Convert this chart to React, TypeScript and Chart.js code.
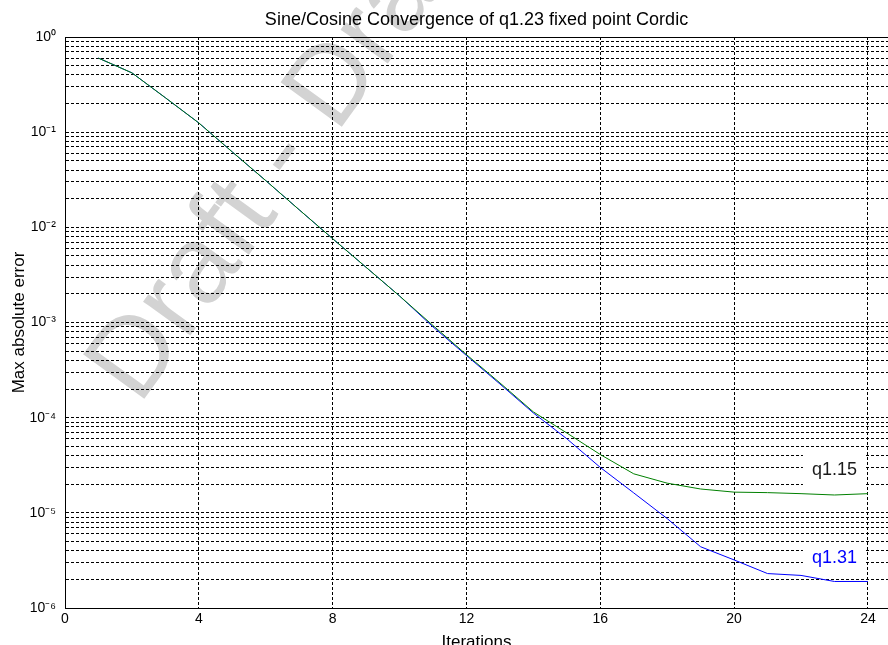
import React, { useEffect, useRef } from "react";
import { Chart, registerables } from "chart.js";

Chart.register(...registerables);

// ---------- data ----------
const iterations = [1, 2, 3, 4, 5, 6, 7, 8, 9, 10, 11, 12, 13, 14, 15, 16, 17, 18, 19, 20, 21, 22, 23, 24];
const errQ115 = [
  0.6, 0.42, 0.23, 0.125, 0.062, 0.031, 0.0153, 0.0076, 0.0038, 0.0019, 0.00093, 0.00046,
  0.000232, 0.000115, 0.000069, 0.000041, 0.0000257, 0.0000205, 0.0000178, 0.0000165,
  0.0000163, 0.0000159, 0.0000154, 0.0000159,
];
const errQ131 = [
  0.6, 0.42, 0.23, 0.125, 0.062, 0.031, 0.0153, 0.0076, 0.0038, 0.0019, 0.0009, 0.00045,
  0.000226, 0.000112, 0.00006, 0.00003, 0.0000162, 0.0000087, 0.0000044, 0.0000032,
  0.0000023, 0.0000022, 0.0000019, 0.0000019,
];
const seriesNames = ["q1.15", "q1.31"];
const seriesColors = ["#008000", "#0000ff"];
const labelTextColors = ["#1a1a1a", "#0000ff"];
const labelX = [23, 23];
const labelY = [2.82e-5, 3.36e-6];
const xTicks = [0, 4, 8, 12, 16, 20, 24];
const xMin = 0;
const xMax = 24.6;
const yDecades = [-6, -5, -4, -3, -2, -1, 0];
const titleText = "Sine/Cosine Convergence of q1.23 fixed point Cordic";
const xTitle = "Iterations";
const yTitle = "Max absolute error";
const watermarkText = "Draft - Draft";

const FONT = '"Liberation Sans", Arial, Helvetica, sans-serif';

const SUP: Record<string, string> = {
  "0": "\u2070", "1": "\u00B9", "2": "\u00B2", "3": "\u00B3", "4": "\u2074",
  "5": "\u2075", "6": "\u2076", "7": "\u2077", "8": "\u2078", "9": "\u2079", "-": "\u207B",
};
const sup = (s: string) => s.split("").map((c) => SUP[c] ?? c).join("");

const yTickValues: number[] = [];
yDecades.forEach((d) => {
  if (d === 0) {
    yTickValues.push(1);
  } else {
    for (let m = 1; m <= 9; m++) yTickValues.push(m * Math.pow(10, d));
  }
});

const overlayPlugin = {
  id: "overlay",
  beforeDraw(chart: any) {
    const { ctx, chartArea } = chart;
    ctx.save();
    ctx.translate(chartArea.left + 74, chartArea.top + 369);
    ctx.rotate((-54 * Math.PI) / 180);
    ctx.font = `110px ${FONT}`;
    ctx.fillStyle = "#d3d3d3";
    ctx.textBaseline = "alphabetic";
    ctx.textAlign = "left";
    ctx.fillText(watermarkText, 0, 0);
    ctx.restore();
  },
  afterDatasetsDraw(chart: any) {
    const { ctx } = chart;
    const xs = chart.scales.x;
    const ys = chart.scales.y;
    ctx.save();
    ctx.font = `18px ${FONT}`;
    ctx.textAlign = "center";
    ctx.textBaseline = "middle";
    seriesNames.forEach((name, i) => {
      const px = xs.getPixelForValue(labelX[i]);
      const py = ys.getPixelForValue(labelY[i]);
      const w = ctx.measureText(name).width + 18;
      const h = 32;
      ctx.fillStyle = "#ffffff";
      ctx.fillRect(px - w / 2, py - h / 2, w, h);
      ctx.fillStyle = labelTextColors[i];
      ctx.fillText(name, px, py);
    });
    ctx.restore();
  },
};

export default function App() {
  const canvasRef = useRef<HTMLCanvasElement | null>(null);

  useEffect(() => {
    document.body.style.margin = "0";
    const canvas = canvasRef.current;
    if (!canvas) return;
    const gridColor = "#000000";
    const chart = new Chart(canvas, {
      type: "line",
      data: {
        labels: iterations,
        datasets: [
          {
            label: seriesNames[0],
            data: iterations.map((x, i) => ({ x, y: errQ115[i] })),
            borderColor: seriesColors[0],
            backgroundColor: seriesColors[0],
            borderWidth: 1,
            pointRadius: 0,
            tension: 0,
            fill: false,
          },
          {
            label: seriesNames[1],
            data: iterations.map((x, i) => ({ x, y: errQ131[i] })),
            borderColor: seriesColors[1],
            backgroundColor: seriesColors[1],
            borderWidth: 1,
            pointRadius: 0,
            tension: 0,
            fill: false,
          },
        ],
      },
      options: {
        responsive: false,
        animation: false,
        layout: { padding: 0 },
        plugins: {
          legend: { display: false },
          title: { display: false },
          tooltip: { enabled: false },
        },
        scales: {
          x: {
            type: "linear",
            position: "bottom",
            min: xMin,
            max: xMax,
            afterBuildTicks: (s: any) => {
              s.ticks = xTicks.map((v) => ({ value: v }));
            },
            afterFit: (s: any) => {
              s.height = 47;
            },
            grid: { color: gridColor, lineWidth: 1, drawTicks: false },
            border: { display: true, color: "#000", width: 1, dash: [3, 2] },
            ticks: {
              padding: 3,
              autoSkip: false,
              maxRotation: 0,
              color: "#000",
              font: { family: FONT, size: 14 },
              callback: (v: any) => String(v),
            },
            title: {
              display: true,
              text: xTitle,
              color: "#000",
              font: { family: FONT, size: 17 },
              padding: { top: 0, bottom: 2 },
            },
          },
          xTop: {
            type: "linear",
            axis: "x",
            position: "top",
            min: xMin,
            max: xMax,
            afterFit: (s: any) => {
              s.height = 37;
            },
            grid: { display: false, drawTicks: false },
            border: { display: true, color: "#000", width: 1 },
            ticks: { display: false },
            title: {
              display: true,
              text: titleText,
              color: "#000",
              font: { family: FONT, size: 18 },
              padding: { top: 9, bottom: 0 },
            },
          },
          y: {
            type: "logarithmic",
            position: "left",
            min: 1e-6,
            max: 1,
            afterBuildTicks: (s: any) => {
              s.ticks = yTickValues.map((v) => ({ value: v }));
            },
            afterFit: (s: any) => {
              s.width = 65;
            },
            grid: { color: gridColor, lineWidth: 1, drawTicks: false },
            border: { display: true, color: "#000", width: 1, dash: [3, 2] },
            ticks: {
              padding: 9,
              autoSkip: false,
              color: "#000",
              font: { family: FONT, size: 14 },
              callback: (v: any) => {
                const e = Math.log10(Number(v));
                if (Math.abs(e - Math.round(e)) < 1e-9) return "10" + sup(String(Math.round(e)));
                return "";
              },
            },
            title: {
              display: true,
              text: yTitle,
              color: "#000",
              font: { family: FONT, size: 17 },
              padding: { top: 9, bottom: 0 },
            },
          },
        },
      } as any,
      plugins: [overlayPlugin],
    });
    return () => chart.destroy();
  }, []);

  return (
    <div style={{ width: 888, height: 645, overflow: "hidden", background: "#fff" }}>
      <canvas ref={canvasRef} width={888} height={655} style={{ display: "block" }} />
    </div>
  );
}
